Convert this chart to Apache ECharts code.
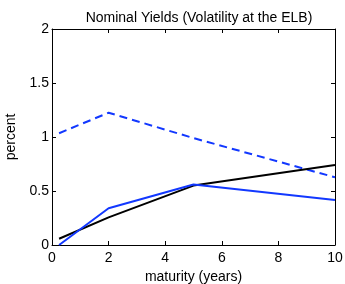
<!DOCTYPE html>
<html><head><meta charset="utf-8">
<script src="https://cdn.jsdelivr.net/npm/echarts@6/dist/echarts.min.js"></script>
<style>html,body{margin:0;padding:0;background:#fff}#c{width:345px;height:284px}</style>
</head><body><div id="c"></div>
<script>
const maturities = [0.25, 2, 5, 10];
const blackSolid = [0.058, 0.256, 0.55, 0.74];
const blueSolid = [0.0, 0.34, 0.56, 0.417];
const blueDashed = [1.035, 1.225, 0.99, 0.627];
const xTicks = [0, 2, 4, 6, 8, 10];
const yTicks = [0, 0.5, 1, 1.5, 2];

const pair = (xs, ys) => xs.map((x, i) => [x, ys[i]]);
const font = 'Liberation Sans, Arial, sans-serif';
const blue = '#1238ff';
const chart = echarts.init(document.getElementById('c'));
const axisCommon = {
  axisLine: { show: true, onZero: false, lineStyle: { color: '#000', width: 1 } },
  axisTick: { show: true, inside: true, length: 4, lineStyle: { color: '#000' } },
  splitLine: { show: false }
};
chart.setOption({
  animation: false,
  title: { text: 'Nominal Yields (Volatility at the ELB)', left: 194, top: 6, textAlign: 'center',
    textStyle: { fontFamily: font, fontSize: 14, fontWeight: 'normal', color: '#000' } },
  grid: { left: 52, right: 10, top: 29, bottom: 39, containLabel: false, outerBoundsMode: 'none' },
  xAxis: [
    Object.assign({ type: 'value', min: 0, max: 10, interval: 2, position: 'bottom',
      name: 'maturity (years)', nameLocation: 'middle', nameGap: 23,
      nameTextStyle: { fontFamily: font, fontSize: 14, color: '#000' },
      axisLabel: { fontFamily: font, fontSize: 14, color: '#000', margin: 6,
        formatter: v => xTicks.includes(v) ? String(v) : '' } }, axisCommon),
    Object.assign({ type: 'value', min: 0, max: 10, interval: 2, position: 'top',
      axisLabel: { show: false } }, axisCommon)
  ],
  yAxis: [
    Object.assign({ type: 'value', min: 0, max: 2, interval: 0.5, position: 'left',
      name: 'percent', nameLocation: 'middle', nameGap: 30,
      nameTextStyle: { fontFamily: font, fontSize: 14, color: '#000' },
      axisLabel: { fontFamily: font, fontSize: 14, color: '#000', margin: 3,
        formatter: v => yTicks.includes(v) ? String(v) : '' } }, axisCommon),
    Object.assign({ type: 'value', min: 0, max: 2, interval: 0.5, position: 'right',
      axisLabel: { show: false } }, axisCommon)
  ],
  series: [
    { type: 'line', data: pair(maturities, blueDashed), symbol: 'none',
      lineStyle: { color: blue, width: 2, type: [8, 5] } },
    { type: 'line', data: pair(maturities, blackSolid), symbol: 'none',
      lineStyle: { color: '#000', width: 2 } },
    { type: 'line', data: pair(maturities, blueSolid), symbol: 'none',
      lineStyle: { color: blue, width: 2 } }
  ]
});
</script></body></html>
